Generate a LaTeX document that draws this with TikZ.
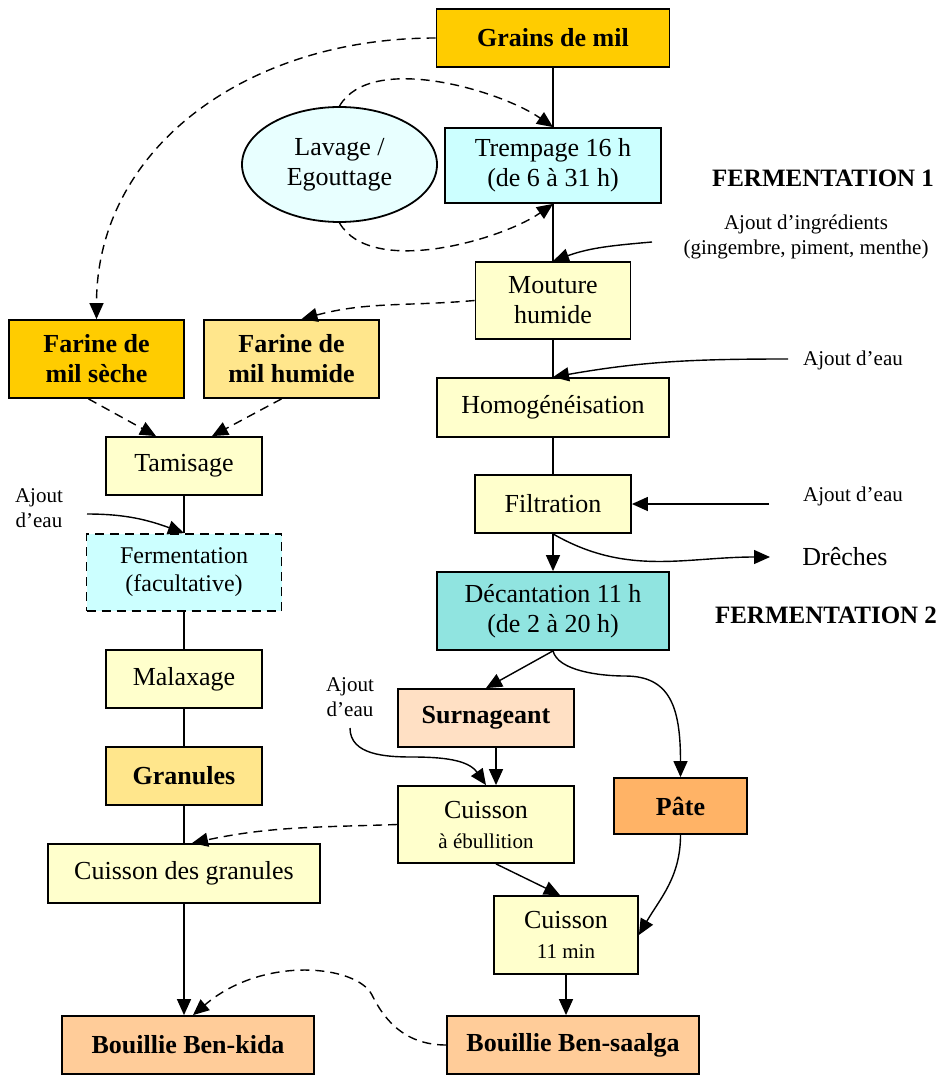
\documentclass[tikz,border=0pt]{standalone}
\usepackage{fontspec}
\setmainfont{Liberation Serif}
\usetikzlibrary{arrows.meta,shapes.geometric}
\definecolor{milgold}{RGB}{255,204,0}
\definecolor{millight}{RGB}{255,230,140}
\definecolor{milcyan}{RGB}{204,255,255}
\definecolor{milpale}{RGB}{232,255,255}
\definecolor{milyellow}{RGB}{255,255,204}
\definecolor{milteal}{RGB}{144,228,224}
\definecolor{milpeach}{RGB}{255,224,196}
\definecolor{milorange}{RGB}{255,179,102}
\definecolor{milapricot}{RGB}{255,204,153}

\begin{document}
\begin{tikzpicture}[x=0.5pt,y=-0.5pt,
  box/.style={draw, line width=0.9pt, inner sep=1pt, align=center, font=\fontsize{13}{15}\selectfont},
  link/.style={line width=0.7pt},
  flow/.style={link, -{Triangle[length=8pt,width=7pt]}},
  dflow/.style={flow, dash pattern=on 4.5pt off 3pt},
  note/.style={align=center, inner sep=0, font=\fontsize{10.5}{12.5}\selectfont}]
\useasboundingbox (0,0) rectangle (947,1075);

% Main column
\node[box, fill=milgold, font=\fontsize{13}{15}\selectfont\bfseries, minimum width=116.5pt, minimum height=29pt] (grains) at (553,38) {Grains de mil};
\node[box, ellipse, fill=milpale, inner sep=0, minimum width=97.5pt, minimum height=57.5pt] (lav) at (339.5,164.5) {Lavage /\\Egouttage};
\node[box, fill=milcyan, minimum width=108pt, minimum height=37.5pt] (trem) at (553,165.5) {Trempage 16 h\\(de 6 à 31 h)};
\node[box, fill=milyellow, minimum width=77.5pt, minimum height=38.5pt] (mout) at (553,300.5) {Mouture\\humide};
\node[box, fill=milyellow, minimum width=116pt, minimum height=29.5pt] (homog) at (553,407.5) {Homogénéisation};
\node[box, fill=milyellow, minimum width=78pt, minimum height=29pt] (filt) at (553,504) {Filtration};
\node[box, fill=milteal, minimum width=116pt, minimum height=39pt] (decant) at (553,611) {Décantation 11 h\\(de 2 à 20 h)};

% Ben-kida branch
\node[box, fill=milgold, font=\fontsize{13}{15}\selectfont\bfseries, minimum width=87.5pt, minimum height=39pt] (farsec) at (96.5,359) {Farine de\\mil sèche};
\node[box, fill=millight, font=\fontsize{13}{15}\selectfont\bfseries, minimum width=87.5pt, minimum height=39pt] (farhum) at (291.5,359) {Farine de\\mil humide};
\node[box, fill=milyellow, minimum width=78pt, minimum height=29pt] (tamis) at (184,466) {Tamisage};
\node[box, fill=milcyan, dash pattern=on 4.5pt off 3pt, font=\fontsize{12}{14}\selectfont, minimum width=97.5pt, minimum height=38.5pt] (ferm) at (184,572.5) {Fermentation\\(facultative)};
\node[box, fill=milyellow, minimum width=78pt, minimum height=29pt] (malax) at (184,679) {Malaxage};
\node[box, fill=millight, font=\fontsize{13}{15}\selectfont\bfseries, minimum width=78pt, minimum height=29pt] (gran) at (184,776) {Granules};
\node[box, fill=milyellow, minimum width=136pt, minimum height=29.5pt] (cuisG) at (184,873.5) {Cuisson des granules};
\node[box, fill=milapricot, font=\fontsize{13}{15}\selectfont\bfseries, minimum width=126pt, minimum height=29pt] (bkida) at (188,1045) {Bouillie Ben-kida};

% Ben-saalga branch
\node[box, fill=milpeach, font=\fontsize{13}{15}\selectfont\bfseries, minimum width=88pt, minimum height=29pt] (surn) at (486,718) {Surnageant};
\node[box, fill=milorange, font=\fontsize{13}{15}\selectfont\bfseries, minimum width=66.5pt, minimum height=28pt] (pate) at (680.5,806) {Pâte};
\node[box, fill=milyellow, minimum width=88pt, minimum height=38.5pt] (cuisE) at (486,824.5) {Cuisson\\{\fontsize{10.5}{12}\selectfont à ébullition}};
\node[box, fill=milyellow, minimum width=72pt, minimum height=39pt] (cuis11) at (566,935) {Cuisson\\{\fontsize{10.5}{12}\selectfont 11 min}};
\node[box, fill=milapricot, font=\fontsize{13}{15}\selectfont\bfseries, minimum width=126pt, minimum height=29pt] (bsaal) at (573,1045) {Bouillie Ben-saalga};

% Labels
\node[font=\fontsize{12.5}{14}\selectfont\bfseries] (ferm1) at (823,178) {FERMENTATION 1};
\node[font=\fontsize{12.5}{14}\selectfont\bfseries] (ferm2) at (826,615) {FERMENTATION 2};
\node[note] (ingrtxt) at (806,237) {Ajout d'ingrédients\\(gingembre, piment, menthe)};
\node[note] (eau1txt) at (853,360) {Ajout d'eau};
\node[note] (eau2txt) at (853,496) {Ajout d'eau};
\node[note] (eau3txt) at (39,508) {Ajout\\d'eau};
\node[note] (eau4txt) at (350,697) {Ajout\\d'eau};
\node[font=\fontsize{13}{15}\selectfont, inner sep=0] (drtxt) at (845,557) {Drêches};

% Free ends
\coordinate (ingr) at (652,242);
\coordinate (eau1) at (788,359);
\coordinate (eau2) at (769,504);
\coordinate (eau3) at (87,514);
\coordinate (eau4) at (350,728);
\coordinate (drech) at (770,557);
\coordinate (pbend) at (625,676);
\coordinate (abend) at (412,757);
\coordinate (kbend) at (372,995);

% Solid flow
\draw[link] (grains) -- (trem);
\draw[link] (trem) -- (mout);
\draw[link] (mout) -- (homog);
\draw[link] (homog) -- (filt);
\draw[flow] (filt) -- (decant);
\draw[flow] (ingr) to[out=185,in=20] (mout.north);
\draw[flow] (eau1) to[out=180,in=10] (homog.north);
\draw[flow] (eau2) -- (filt.east);
\draw[flow] (filt.south) to[out=-30,in=180] (drech);
\draw[flow] (decant.south) -- (surn.north);
\draw[flow] (decant.south) .. controls +(5,20) and +(-25,0) .. (pbend) .. controls +(45,0) and +(0,-70) .. (pate.north);
\draw[flow] ([xshift=5pt]surn.south) -- ([xshift=5pt]cuisE.north);
\draw[flow] (eau4) to[out=-90,in=180] (abend) to[out=0,in=125] (cuisE.north);
\draw[flow] ([xshift=5pt]cuisE.south) -- ([xshift=-3pt]cuis11.north);
\draw[flow] (pate.south) to[out=-90,in=60] (cuis11.east);
\draw[flow] (cuis11.south) -- (cuis11.south |- bsaal.north);

\draw[link] (tamis) -- (ferm);
\draw[flow] (eau3) to[out=0,in=160] (ferm.north);
\draw[link] (ferm) -- (malax);
\draw[link] (malax) -- (gran);
\draw[link] (gran) -- (cuisG);
\draw[flow] (cuisG.south) -- (cuisG.south |- bkida.north);

% Dashed flow
\draw[dflow] (lav.north) to[out=60,in=145,looseness=0.75] (trem.north);
\draw[dflow] (lav.south) to[out=-60,in=-145,looseness=0.75] (trem.south);
\draw[dflow] (grains.west) .. controls +(-190,0) and +(0,-170) .. (farsec.north);
\draw[dflow] (mout.west) to[out=185,in=15] ([xshift=5pt]farhum.north);
\draw[dflow] ([xshift=-4pt]farsec.south) -- ([xshift=-14pt]tamis.north);
\draw[dflow] ([xshift=-5pt]farhum.south) -- ([xshift=14pt]tamis.north);
\draw[dflow] (cuisE.west) to[out=182,in=12] ([xshift=4pt]cuisG.north);
\draw[dflow] (bsaal.west) .. controls +(-45,0) and +(10,20) .. (kbend) .. controls +(-15,-30) and +(70,-60) .. ([xshift=2.5pt]bkida.north);
\end{tikzpicture}
\end{document}
